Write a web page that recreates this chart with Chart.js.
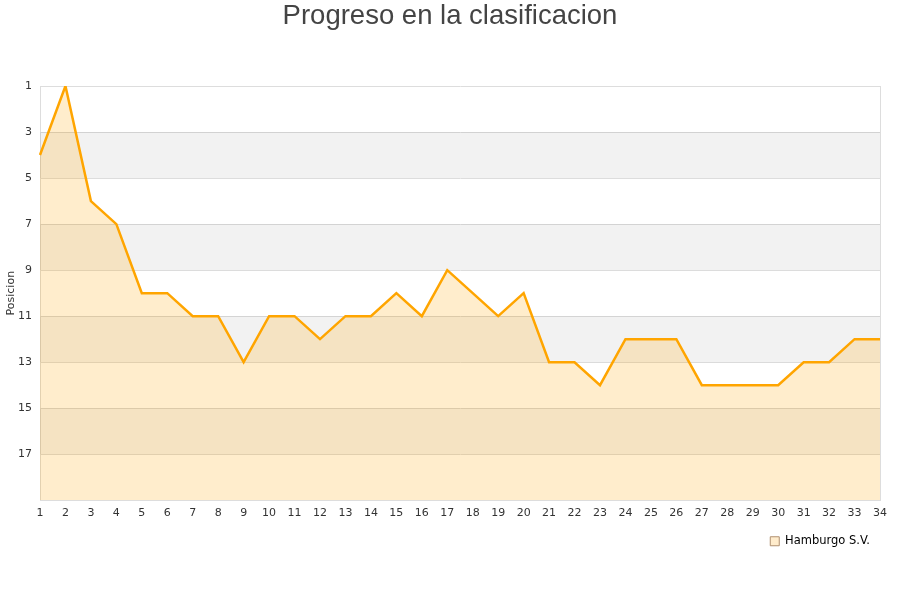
<!DOCTYPE html>
<html>
<head>
<meta charset="utf-8">
<script src="https://cdn.jsdelivr.net/npm/chart.js@4"></script>
<style>
    body { margin: 0; background: #fff; }
    #wrap { width: 900px; height: 600px; }
</style>
</head>
<body>
<div id="wrap"><canvas id="rank-chart" width="900" height="600"></canvas></div>
<script>
// Data
const jornadas = ['1','2','3','4','5','6','7','8','9','10','11','12','13','14','15','16','17','18','19','20','21','22','23','24','25','26','27','28','29','30','31','32','33','34'];
const posiciones = [4, 1, 6, 7, 10, 10, 11, 11, 13, 11, 11, 12, 11, 11, 10, 11, 9, 10, 11, 10, 13, 13, 14, 12, 12, 12, 14, 14, 14, 14, 13, 13, 12, 12];
const bandas = [[3, 5], [7, 9], [11, 13], [15, 17]];

// Grey bands behind the line + right border
const bandsPlugin = {
    id: 'bands',
    beforeDatasetsDraw(chart) {
        const { ctx, chartArea, scales } = chart;
        ctx.save();
        ctx.fillStyle = 'rgba(0,0,0,0.05)';
        bandas.forEach(b => {
            const y1 = scales.y.getPixelForValue(b[0]);
            const y2 = scales.y.getPixelForValue(b[1]);
            ctx.fillRect(chartArea.left, y1, chartArea.right - chartArea.left, y2 - y1);
        });
        ctx.strokeStyle = '#dddddd';
        ctx.lineWidth = 1;
        ctx.beginPath();
        ctx.moveTo(chartArea.right + 0.5, chartArea.top);
        ctx.lineTo(chartArea.right + 0.5, chartArea.bottom);
        ctx.stroke();
        ctx.restore();
    }
};

new Chart(document.getElementById('rank-chart'), {
    type: 'line',
    data: {
        labels: jornadas,
        datasets: [{
            label: 'Hamburgo S.V.',
            data: posiciones,
            borderColor: '#ffa500',
            backgroundColor: 'rgba(255,165,0,0.2)',
            borderWidth: 2.5,
            pointRadius: 0,
            tension: 0,
            fill: 'start'
        }]
    },
    options: {
        responsive: false,
        animation: false,
        layout: { padding: { left: 0, right: 0, top: 0, bottom: 43 } },
        plugins: {
            title: {
                display: true,
                text: 'Progreso en la clasificacion',
                color: '#444',
                font: { family: 'Liberation Sans', size: 27.5, weight: 'normal' },
                padding: { top: 0, bottom: 53 }
            },
            legend: {
                position: 'bottom',
                align: 'end',
                fullSize: false,
                labels: {
                    color: '#000',
                    font: { family: 'DejaVu Sans', size: 11.5 },
                    boxWidth: 9,
                    boxHeight: 9,
                    padding: 10,
                    generateLabels: chart => [{
                        text: 'Hamburgo S.V.',
                        fillStyle: '#ffeccc',
                        strokeStyle: '#b09070',
                        lineWidth: 1,
                        datasetIndex: 0
                    }]
                }
            },
            tooltip: { enabled: false }
        },
        scales: {
            x: {
                offset: false,
                grid: { display: false, drawTicks: false },
                border: { color: '#dddddd' },
                ticks: {
                    color: '#333',
                    font: { family: 'DejaVu Sans', size: 11 },
                    maxRotation: 0,
                    autoSkip: false,
                    padding: 6
                }
            },
            y: {
                reverse: true,
                min: 1,
                max: 19,
                afterFit: s => { s.width = 40; },
                grid: { color: '#dddddd', drawTicks: false },
                border: { color: '#dddddd' },
                title: {
                    display: true,
                    text: 'Posicion',
                    color: '#333',
                    font: { family: 'DejaVu Sans', size: 11 },
                    padding: { top: 5, bottom: 0 }
                },
                ticks: {
                    stepSize: 2,
                    color: '#333',
                    font: { family: 'DejaVu Sans', size: 11 },
                    padding: 8,
                    callback: v => (v === 19 ? '' : v)
                }
            },
            // empty right margin so the plot ends at x=880
            y2: {
                position: 'right',
                afterFit: s => { s.width = 20; },
                grid: { display: false },
                border: { display: false },
                ticks: { display: false }
            }
        }
    },
    plugins: [bandsPlugin]
});
</script>
</body>
</html>
